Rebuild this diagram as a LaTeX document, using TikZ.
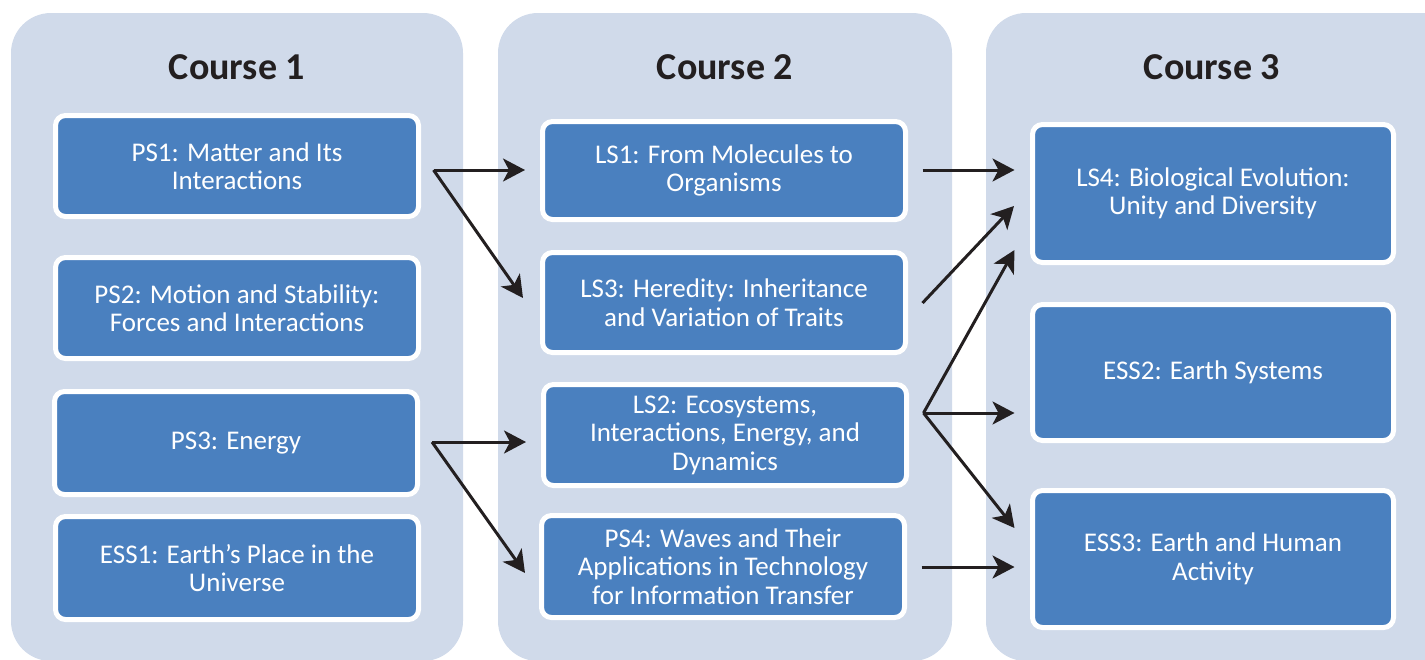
\documentclass[tikz,border=0pt]{standalone}
\usepackage{fontspec}
\setmainfont{Carlito}
\usetikzlibrary{arrows.meta,calc}
\definecolor{panelc}{RGB}{208,218,234}
\definecolor{boxc}{RGB}{74,128,191}
\definecolor{inkc}{RGB}{35,31,32}
\begin{document}
\begin{tikzpicture}[x=1pt,y=-1pt,
  panel/.style={fill=panelc,draw=none,rounded corners=40pt},
  title/.style={text=inkc,font=\bfseries\fontsize{38}{40}\selectfont,anchor=center},
  topic/.style={fill=boxc,draw=white,line width=5pt,rounded corners=10pt,text=white,
    align=center,font=\fontsize{27}{28.5}\selectfont,inner sep=0pt},
  arr/.style={draw=inkc,line width=3pt,-{Stealth[length=22pt,width=23pt,inset=6pt]}}]
\useasboundingbox (0,0) rectangle (1425,659);
\clip (0,0) rectangle (1425,659);
% panels
\fill[panel] (11,13) rectangle (463,661);
\fill[panel] (498,13) rectangle (952,661);
\fill[panel] (986,13) rectangle (1480,661);
% titles
\node[title] (c1) at (237,67) {Course 1};
\node[title] (c2) at (725,67) {Course 2};
\node[title] (c3) at (1212,67) {Course 3};
% course 1
\node[topic,minimum width=363pt,minimum height=101pt] (PS1) at (237,166) {PS1: Matter and Its\\Interactions};
\node[topic,minimum width=363pt,minimum height=101pt] (PS2) at (237,308) {PS2: Motion and Stability:\\Forces and Interactions};
\node[topic,minimum width=363pt,minimum height=103pt] (PS3) at (236,443) {PS3: Energy};
\node[topic,minimum width=363pt,minimum height=103pt] (ESS1) at (237,568) {ESS1: Earth’s Place in the\\Universe};
% course 2
\node[topic,minimum width=363pt,minimum height=98pt] (LS1) at (724,170.5) {LS1: From Molecules to\\Organisms};
\node[topic,minimum width=363pt,minimum height=100pt] (LS3) at (724,302.5) {LS3: Heredity: Inheritance\\and Variation of Traits};
\node[topic,minimum width=363pt,minimum height=101pt] (LS2) at (725,435) {LS2: Ecosystems,\\Interactions, Energy, and\\Dynamics};
\node[topic,minimum width=363pt,minimum height=102pt] (PS4) at (723,566.5) {PS4: Waves and Their\\Applications in Technology\\for Information Transfer};
% course 3
\node[topic,minimum width=361pt,minimum height=138pt] (LS4) at (1213,193.5) {LS4: Biological Evolution:\\Unity and Diversity};
\node[topic,minimum width=361pt,minimum height=136pt] (ESS2) at (1213,372.5) {ESS2: Earth Systems};
\node[topic,minimum width=361pt,minimum height=137pt] (ESS3) at (1213,559) {ESS3: Earth and Human\\Activity};
% fan origins
\coordinate (o1) at ($(PS1.east)+(12.5,4)$);
\coordinate (o2) at ($(PS3.east)+(12,-1)$);
\coordinate (o3) at ($(LS1.east)+(14.5,-0.5)$);
\coordinate (o4) at ($(LS3.east)+(14.5,0.5)$);
\coordinate (o5) at ($(LS2.east)+(14.5,-22)$);
\coordinate (o6) at ($(PS4.east)+(14.5,0.5)$);
% connectors
\draw[arr] (o1) -- ($(LS1.west)+(-15,-0.5)$);
\draw[arr] (o1) -- ($(LS3.west)+(-17,-4.5)$);
\draw[arr] (o2) -- ($(LS2.west)+(-15,7)$);
\draw[arr] (o2) -- ($(PS4.west)+(-14,6.5)$);
\draw[arr] (o3) -- ($(LS4.west)+(-15.5,-23.5)$);
\draw[arr] (o4) -- ($(LS4.west)+(-16,12.5)$);
\draw[arr] (o5) -- ($(LS4.west)+(-15.5,56.5)$);
\draw[arr] (o5) -- ($(ESS2.west)+(-15.5,40.5)$);
\draw[arr] (o5) -- ($(ESS3.west)+(-15.5,-31)$);
\draw[arr] (o6) -- ($(ESS3.west)+(-15.5,8)$);
\end{tikzpicture}
\end{document}
